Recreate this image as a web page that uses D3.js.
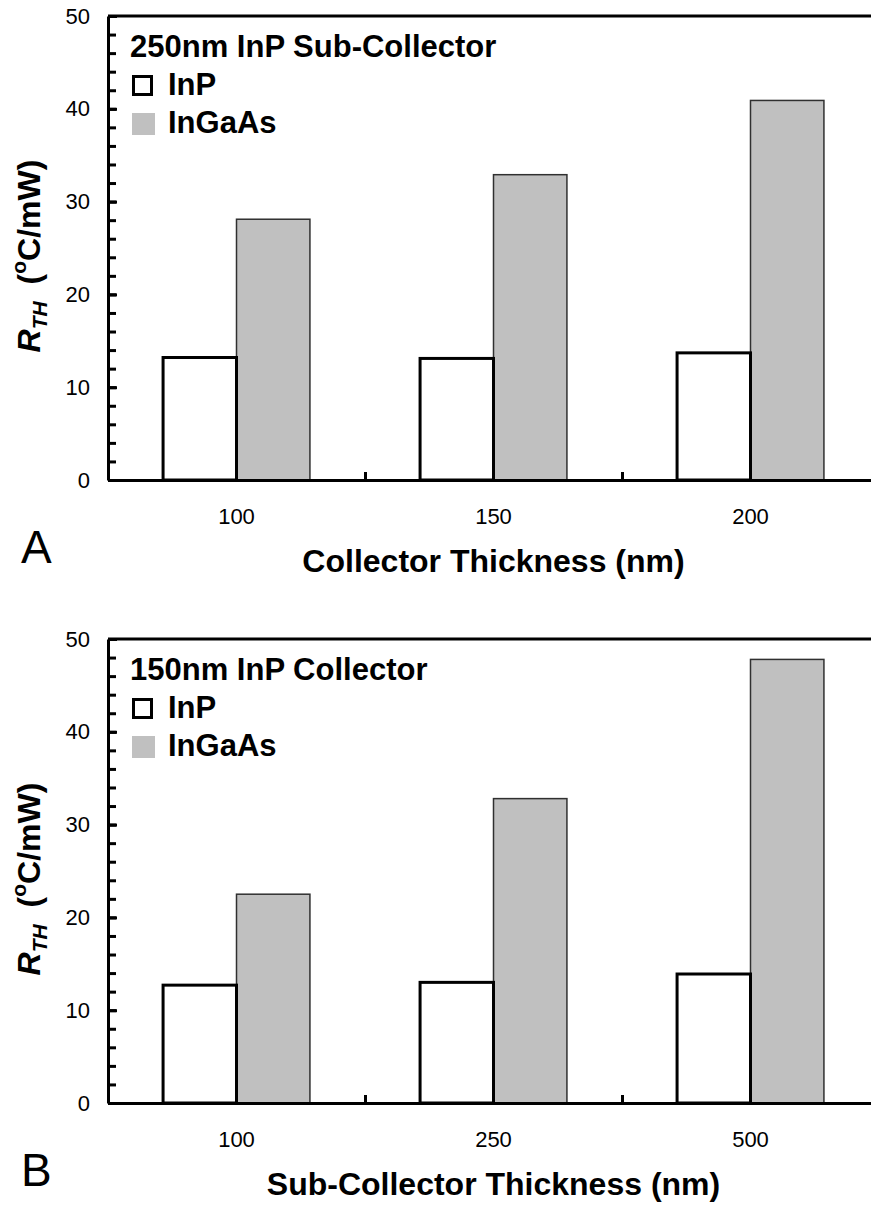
<!DOCTYPE html>
<html>
<head>
<meta charset="utf-8">
<script src="https://cdn.jsdelivr.net/npm/d3@7"></script>
<style>
  body { margin: 0; background: #fff; }
  text { font-family: "Liberation Sans", Arial, sans-serif; fill: #000; }
</style>
</head>
<body>
<svg id="chart" width="871" height="1207"></svg>
<script>
// panel A data
const categoriesA = ["100", "150", "200"];
const inpA = [13.2, 13.1, 13.7];
const ingaasA = [28.1, 32.9, 40.9];

// panel B data
const categoriesB = ["100", "250", "500"];
const inpB = [12.7, 13.0, 13.9];
const ingaasB = [22.5, 32.8, 47.8];

const series = ["InP", "InGaAs"];
const yMajorTicks = [0, 10, 20, 30, 40, 50];
const yMinorTicks = d3.range(0, 51, 2);

const svg = d3.select("#chart");

const plotLeft = 108, plotRight = 879, plotH = 464;

function drawPanel(top, cats, inp, ingaas, legendTitle, xTitle, letter) {
  const g = svg.append("g").attr("transform", `translate(0,${top})`);

  const x = d3.scaleBand().domain(cats).range([plotLeft, plotRight]);
  const xs = d3.scaleBand().domain(series).range([0, x.bandwidth()]).paddingOuter(0.75);
  const xb = d3.scaleLinear().domain([0, cats.length]).range([plotLeft, plotRight]);
  const y = d3.scaleLinear().domain([0, 50]).range([plotH, 0]);

  const rows = cats.map((c, i) => ({ cat: c, InP: inp[i], InGaAs: ingaas[i] }));

  // top frame line
  g.append("line")
    .attr("x1", plotLeft).attr("x2", plotRight)
    .attr("y1", y(50)).attr("y2", y(50))
    .attr("stroke", "#000").attr("stroke-width", 3);

  // InGaAs bars
  g.selectAll(".bar-ingaas").data(rows).enter().append("rect")
    .attr("class", "bar-ingaas")
    .attr("x", d => x(d.cat) + xs("InGaAs"))
    .attr("width", xs.bandwidth())
    .attr("y", d => y(d.InGaAs))
    .attr("height", d => y(0) - y(d.InGaAs))
    .attr("fill", "#c0c0c0")
    .attr("stroke", "#303030")
    .attr("stroke-width", 1.5);

  // InP bars
  g.selectAll(".bar-inp").data(rows).enter().append("rect")
    .attr("class", "bar-inp")
    .attr("x", d => x(d.cat) + xs("InP"))
    .attr("width", xs.bandwidth())
    .attr("y", d => y(d.InP))
    .attr("height", d => y(0) - y(d.InP))
    .attr("fill", "#fff")
    .attr("stroke", "#000")
    .attr("stroke-width", 3);

  // y axis: minor ticks, then major with labels
  g.append("g")
    .attr("transform", `translate(${plotLeft},0)`)
    .call(d3.axisLeft(y).tickValues(yMinorTicks).tickSize(-8).tickFormat(""))
    .call(a => a.select(".domain").remove())
    .call(a => a.selectAll("line").attr("stroke-width", 3));

  const yAxis = g.append("g")
    .attr("transform", `translate(${plotLeft},0)`)
    .call(d3.axisLeft(y).tickValues(yMajorTicks).tickSize(-9).tickPadding(18).tickSizeOuter(0))
    .call(a => a.select(".domain").attr("stroke-width", 3));
  yAxis.selectAll("line").attr("stroke-width", 3);
  yAxis.selectAll("text").style("font-size", "22px").attr("fill", "#000");

  // x axis: boundary ticks pointing up
  g.append("g")
    .attr("transform", `translate(0,${plotH})`)
    .call(d3.axisBottom(xb).tickValues(d3.range(0, cats.length + 1)).tickSize(-8).tickFormat("").tickSizeOuter(0))
    .call(a => a.select(".domain").attr("stroke-width", 3))
    .call(a => a.selectAll("line").attr("stroke-width", 3));

  // x labels
  g.append("g")
    .attr("transform", `translate(0,${plotH})`)
    .call(d3.axisBottom(x).tickSize(0).tickPadding(28))
    .call(a => a.select(".domain").remove())
    .call(a => a.selectAll("text").style("font-size", "22px").attr("fill", "#000"));

  // x title
  g.append("text")
    .attr("x", (plotLeft + plotRight) / 2)
    .attr("y", plotH + 92)
    .attr("text-anchor", "middle")
    .style("font-size", "32px")
    .style("font-weight", "bold")
    .text(xTitle);

  // y title
  const yt = g.append("text")
    .attr("transform", `translate(40,${plotH / 2 + 8}) rotate(-90)`)
    .attr("text-anchor", "middle")
    .style("font-size", "32px")
    .style("font-weight", "bold");
  yt.append("tspan").style("font-style", "italic").text("R");
  yt.append("tspan").style("font-style", "italic").style("font-size", "21px").attr("dy", 7).text("TH");
  yt.append("tspan").attr("dy", -7).attr("dx", 8).text(" (");
  yt.append("tspan").style("font-size", "21px").attr("dy", -14).text("o");
  yt.append("tspan").attr("dy", 14).text("C/mW)");

  // legend
  g.append("text")
    .attr("x", 130).attr("y", 41)
    .style("font-size", "31px").style("font-weight", "bold")
    .text(legendTitle);

  g.append("rect")
    .attr("x", 133.5).attr("y", 60.5).attr("width", 18).attr("height", 18)
    .attr("fill", "#fff").attr("stroke", "#000").attr("stroke-width", 3);
  g.append("text")
    .attr("x", 168).attr("y", 79)
    .style("font-size", "31px").style("font-weight", "bold")
    .text(series[0]);

  g.append("rect")
    .attr("x", 132).attr("y", 97).attr("width", 23).attr("height", 22)
    .attr("fill", "#c0c0c0");
  g.append("text")
    .attr("x", 168).attr("y", 117)
    .style("font-size", "31px").style("font-weight", "bold")
    .text(series[1]);

  // panel letter
  g.append("text")
    .attr("x", 21).attr("y", plotH + 83)
    .style("font-size", "46px")
    .text(letter);
}

drawPanel(16, categoriesA, inpA, ingaasA, "250nm InP Sub-Collector", "Collector Thickness (nm)", "A");
drawPanel(639, categoriesB, inpB, ingaasB, "150nm InP Collector", "Sub-Collector Thickness (nm)", "B");
</script>
</body>
</html>
